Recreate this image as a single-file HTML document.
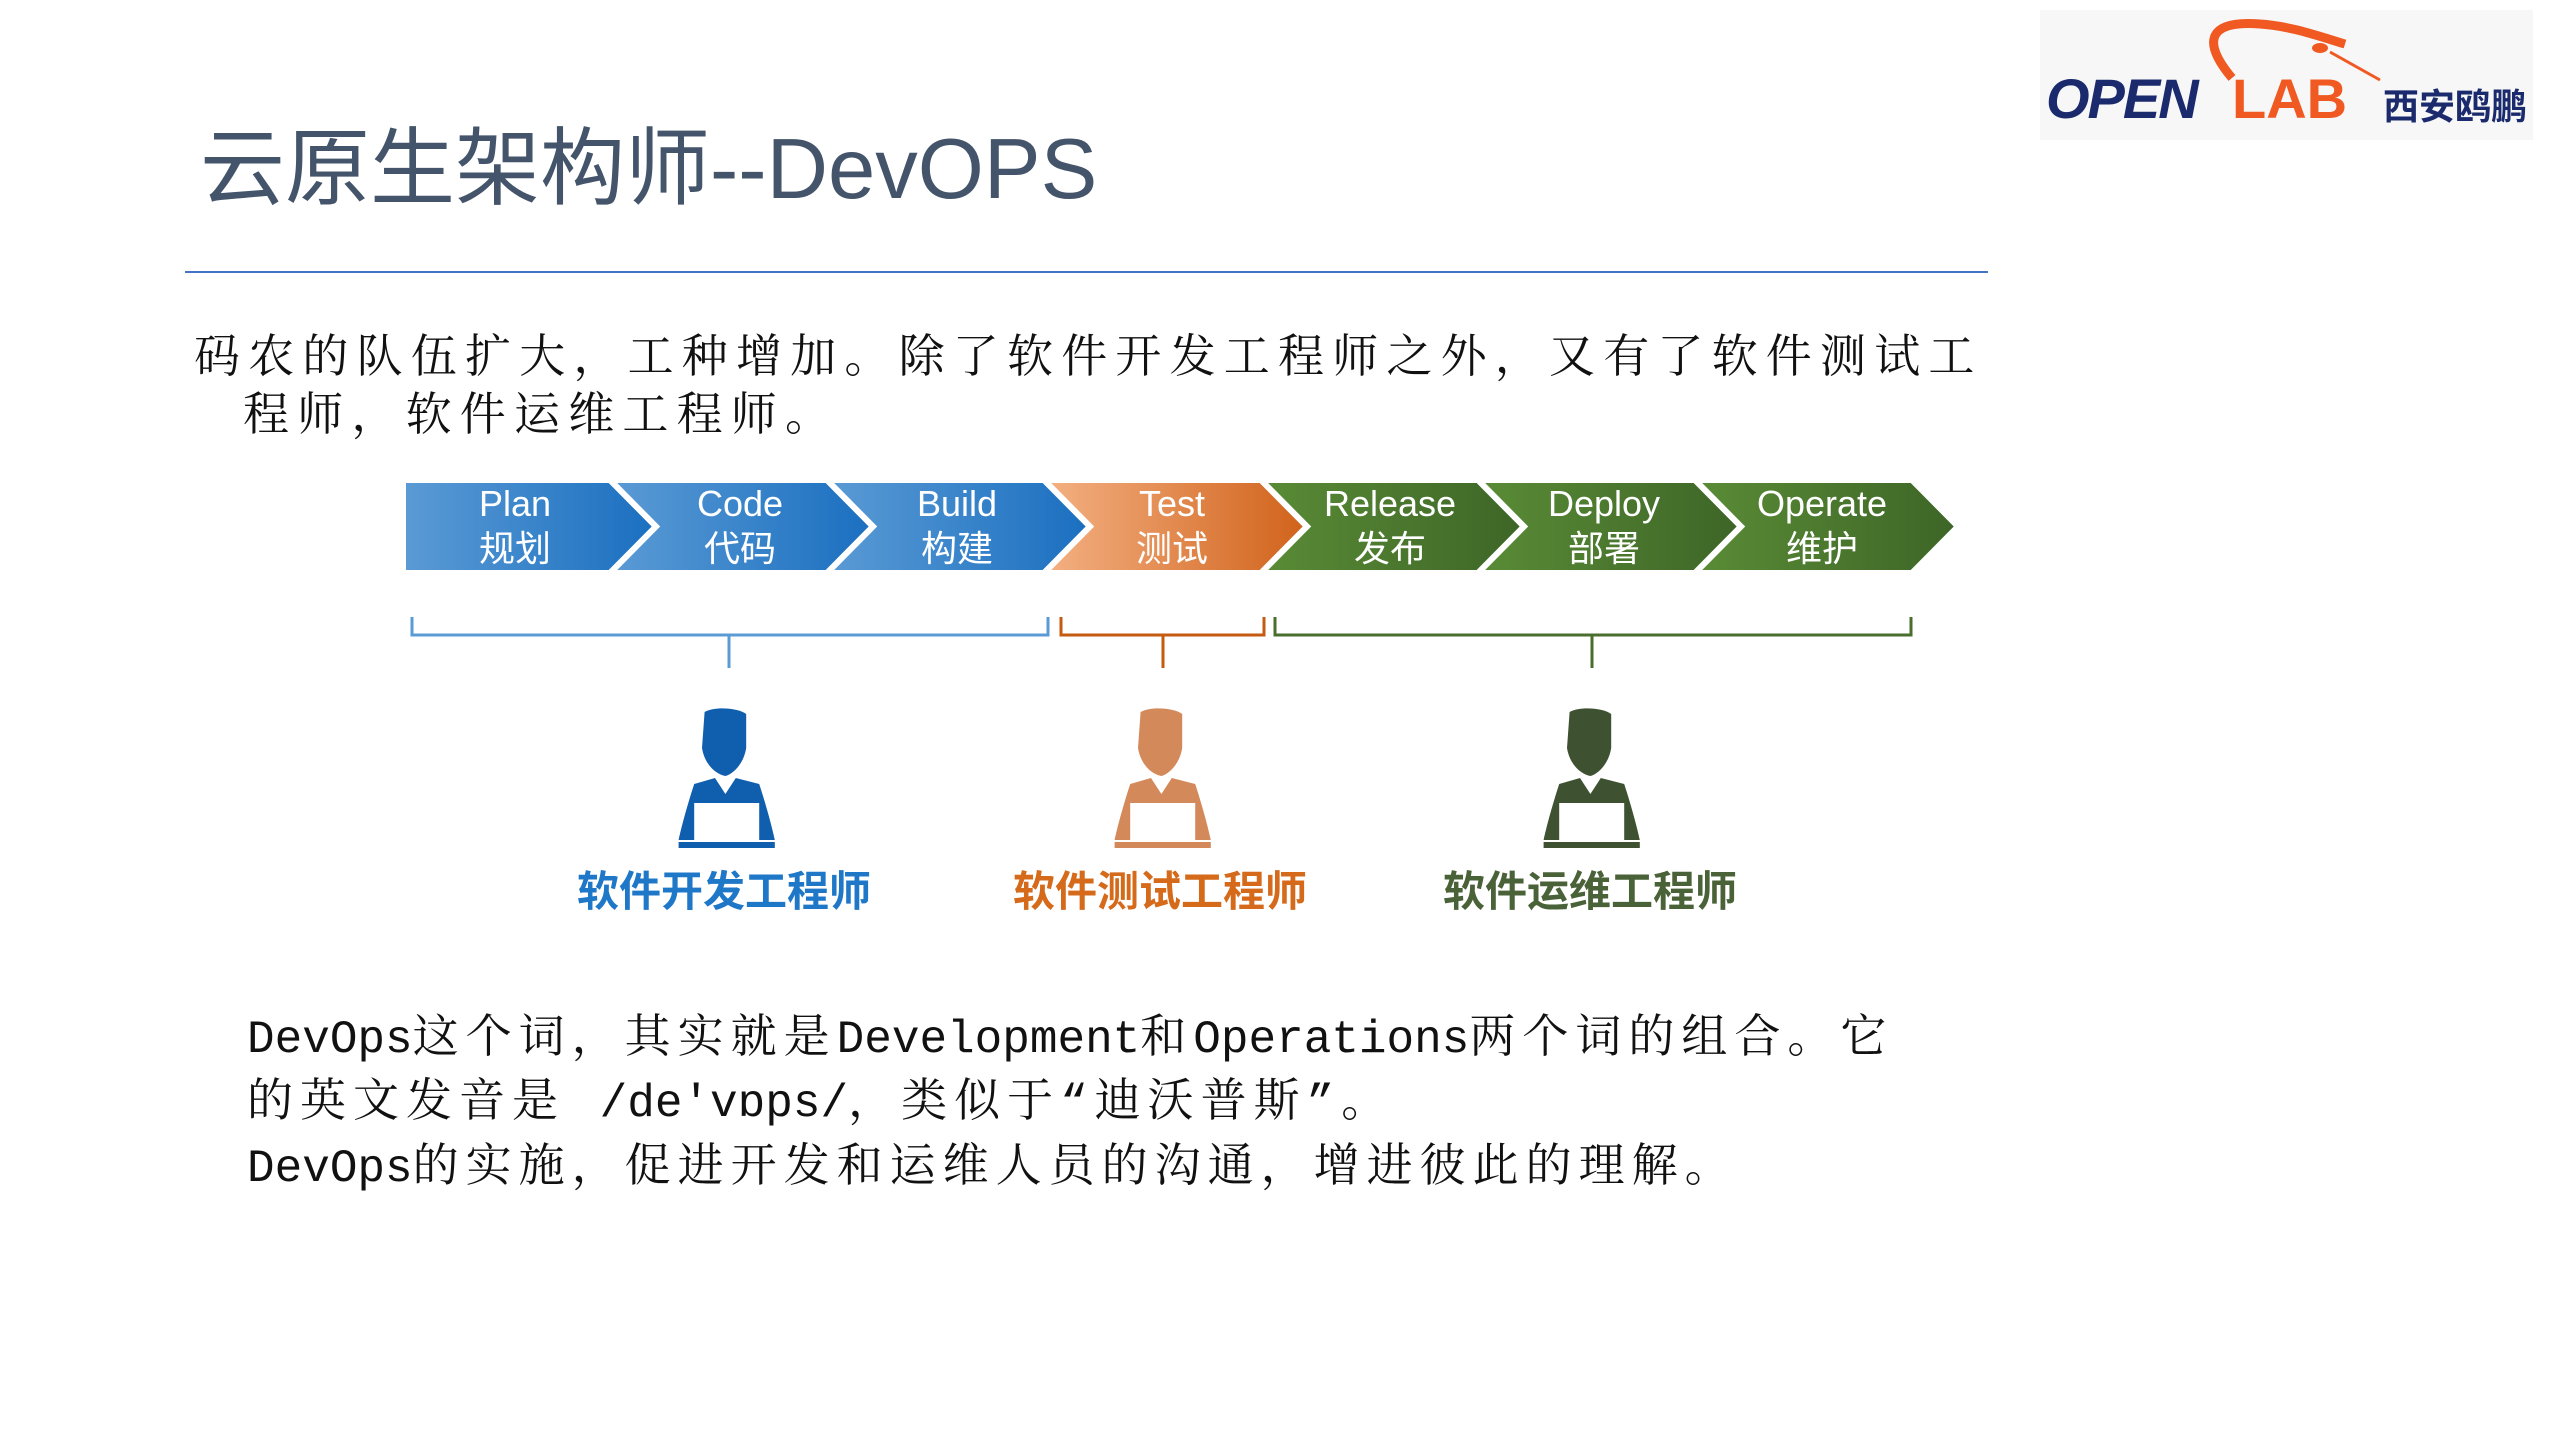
<!DOCTYPE html>
<html><head><meta charset="utf-8"><style>
html,body{margin:0;padding:0;background:#fff;}
body{width:2560px;height:1440px;position:relative;overflow:hidden;font-family:"Liberation Sans","Noto Sans CJK SC",sans-serif;}
.t{position:absolute;white-space:nowrap;}
.kai{font-family:"Liberation Serif","Noto Serif CJK SC",serif;color:#111;}
.mono{font-family:"Liberation Mono","Noto Serif CJK SC",monospace;color:#111;}
.m{letter-spacing:0;}
</style></head><body>
<div class="t" style="left:200px;top:100px;font-size:85px;color:#44546a;">云原生架构师--DevOPS</div>
<div style="position:absolute;left:185px;top:271px;width:1803px;height:2px;background:#4472c4;"></div>

<div class="t kai" style="left:194px;top:320px;font-size:46px;letter-spacing:8.2px;">码农的队伍扩大，工种增加。除了软件开发工程师之外，又有了软件测试工</div>
<div class="t kai" style="left:243px;top:378px;font-size:46px;letter-spacing:8.2px;">程师，软件运维工程师。</div>

<!-- logo -->
<div style="position:absolute;left:2040px;top:10px;width:493px;height:130px;background:#f7f7f7;"></div>
<svg style="position:absolute;left:2040px;top:0" width="520" height="160">
<path d="M192 78 C160 40 170 20 220 24 C250 26 275 35 305 44" fill="none" stroke="#f05a22" stroke-width="9"/>
<ellipse cx="280" cy="48" rx="8" ry="5" fill="#f05a22"/>
<path d="M290 52 L340 80" stroke="#f05a22" stroke-width="3"/>
</svg>
<div class="t" style="left:2046px;top:66px;font-size:56px;font-weight:bold;font-style:italic;color:#1a2a6c;letter-spacing:-2px;">OPEN</div>
<div class="t" style="left:2232px;top:66px;font-size:56px;font-weight:bold;color:#f05a22;">LAB</div>
<div class="t" style="left:2383px;top:78px;font-size:36px;font-weight:bold;color:#1a2a6c;font-family:'Noto Sans CJK SC',sans-serif;">西安鸥鹏</div>

<svg style="position:absolute;left:0;top:0" width="2560" height="1000">
<defs>
<linearGradient id="gb" x1="0" x2="1"><stop offset="0" stop-color="#5b9bd5"/><stop offset="1" stop-color="#1a6fc0"/></linearGradient>
<linearGradient id="go" x1="0" x2="1"><stop offset="0" stop-color="#f4b183"/><stop offset="1" stop-color="#d0621a"/></linearGradient>
<linearGradient id="gg" x1="0" x2="1"><stop offset="0" stop-color="#5a8c36"/><stop offset="1" stop-color="#3d6527"/></linearGradient>
<g id="p">
<path d="M32 4 C40 -2 58 0 64 6 L64 40 C62 56 54 66 48 68 C40 66 32 56 30 40 Z"/>
<path d="M24 76 L40 70 L48 86 L56 70 L74 76 C80 100 84 120 86 132 L12 132 C14 120 18 100 24 76 Z"/>
<rect x="12" y="134" width="74" height="6"/>
</g>
</defs>
<g stroke="#fff" stroke-width="6">
<polygon points="403,480 610,480 656,526.5 610,573 403,573" fill="url(#gb)"/>
<polygon points="610,480 827,480 873,526.5 827,573 610,573 656,526.5" fill="url(#gb)"/>
<polygon points="827,480 1044,480 1090,526.5 1044,573 827,573 873,526.5" fill="url(#gb)"/>
<polygon points="1044,480 1261,480 1307,526.5 1261,573 1044,573 1090,526.5" fill="url(#go)"/>
<polygon points="1261,480 1478,480 1524,526.5 1478,573 1261,573 1307,526.5" fill="url(#gg)"/>
<polygon points="1478,480 1695,480 1741,526.5 1695,573 1478,573 1524,526.5" fill="url(#gg)"/>
<polygon points="1695,480 1912,480 1958,526.5 1912,573 1695,573 1741,526.5" fill="url(#gg)"/>
</g>
<g font-family="Liberation Sans,Noto Sans CJK SC,sans-serif" font-size="36" fill="#fff" text-anchor="middle">
<text x="515" y="516">Plan</text><text x="515" y="561">规划</text>
<text x="740" y="516">Code</text><text x="740" y="561">代码</text>
<text x="957" y="516">Build</text><text x="957" y="561">构建</text>
<text x="1172" y="516">Test</text><text x="1172" y="561">测试</text>
<text x="1390" y="516">Release</text><text x="1390" y="561">发布</text>
<text x="1604" y="516">Deploy</text><text x="1604" y="561">部署</text>
<text x="1822" y="516">Operate</text><text x="1822" y="561">维护</text>
</g>
<g fill="none" stroke-width="3">
<path d="M412 617 V635 H1048 V617 M729 635 V668" stroke="#5b9bd5"/>
<path d="M1061 617 V635 H1264 V617 M1163 635 V668" stroke="#c55a11"/>
<path d="M1275 617 V635 H1911 V617 M1592 635 V668" stroke="#4a6e2e"/>
</g>
<g transform="translate(663,708) scale(1.3,1)"><use href="#p" fill="#0f5fae"/><rect x="24" y="95" width="50" height="37" fill="#fff"/></g>
<g transform="translate(1099,708) scale(1.3,1)"><use href="#p" fill="#d4895a"/><rect x="24" y="95" width="50" height="37" fill="#fff"/></g>
<g transform="translate(1528,708) scale(1.3,1)"><use href="#p" fill="#3e5232"/><rect x="24" y="95" width="50" height="37" fill="#fff"/></g>
<g font-family="Noto Sans CJK SC,sans-serif" font-size="42" font-weight="bold" text-anchor="middle">
<text x="724" y="906" fill="#1f77c8">软件开发工程师</text>
<text x="1160" y="906" fill="#d46a1a">软件测试工程师</text>
<text x="1590" y="906" fill="#4a6238">软件运维工程师</text>
</g>
</svg>

<div class="t mono" style="left:247px;top:1000px;font-size:46px;letter-spacing:7px;"><span class="m">DevOps</span>这个词，其实就是<span class="m">Development</span>和<span class="m">Operations</span>两个词的组合。它</div>
<div class="t mono" style="left:247px;top:1064px;font-size:46px;letter-spacing:7px;">的英文发音是 <span class="m">/de'vɒps/</span>，类似于“迪沃普斯”。</div>
<div class="t mono" style="left:247px;top:1129px;font-size:46px;letter-spacing:7px;"><span class="m">DevOps</span>的实施，促进开发和运维人员的沟通，增进彼此的理解。</div>
</body></html>
